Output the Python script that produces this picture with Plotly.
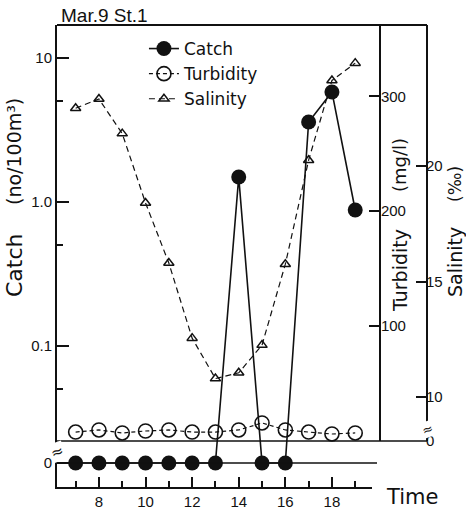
import plotly.graph_objects as go

# ---------------- data ----------------
HOURS = [7, 8, 9, 10, 11, 12, 13, 14, 15, 16, 17, 18, 19]
CATCH = [0, 0, 0, 0, 0, 0, 0, 1.49, 0, 0, 3.59, 5.81, 0.88]          # no/100m3
TURBIDITY = [7.8, 9.6, 7.0, 8.7, 9.6, 7.8, 7.8, 9.6, 15.7, 9.6, 7.8, 6.1, 7.0]  # mg/l
SALINITY = [22.5, 22.9, 21.4, 18.4, 15.8, 12.55, 10.8, 11.05, 12.25, 15.75, 20.25, 23.7, 24.45]  # permil

X_TICKS = [8, 10, 12, 14, 16, 18]
X_MINOR = [7, 9, 11, 13, 15, 17, 19]
CATCH_TICKS = [10, 1, 0.1]
CATCH_TICK_TEXT = ["10", "1.0", "0.1"]
CATCH_MINOR = [5, 0.5, 0.05]
TURB_TICKS = [100, 200, 300]
SAL_TICKS = [10, 15, 20]

# plotting stand-ins for the broken (zero) parts of the axes
CATCH_ZERO_PLOT = 10 ** -1.8125
SAL_AXIS_MIN = 8.1

catch_plot = [c if c > 0 else CATCH_ZERO_PLOT for c in CATCH]

BLACK = "#111111"
TICKFONT = dict(family="Liberation Sans", size=15, color=BLACK)

fig = go.Figure()

fig.add_trace(go.Scatter(
    x=HOURS, y=TURBIDITY, name="Turbidity", xaxis="x", yaxis="y2",
    mode="lines+markers", cliponaxis=False, legendrank=2,
    line=dict(color=BLACK, width=1.2, dash="4px,3px"),
    marker=dict(symbol="circle-open", size=14, color=BLACK, line=dict(width=1.6, color=BLACK)),
))
fig.add_trace(go.Scatter(
    x=HOURS, y=SALINITY, name="Salinity", xaxis="x", yaxis="y3",
    mode="lines+markers", cliponaxis=False, legendrank=3,
    line=dict(color=BLACK, width=1.2, dash="6px,4px"),
    marker=dict(symbol="triangle-up-open", size=9, color=BLACK, line=dict(width=1.5, color=BLACK)),
))
fig.add_trace(go.Scatter(
    x=HOURS, y=catch_plot, name="Catch", xaxis="x", yaxis="y",
    mode="lines+markers", cliponaxis=False, legendrank=1,
    line=dict(color=BLACK, width=1.6),
    marker=dict(symbol="circle", size=15, color=BLACK),
))

X_DOMAIN_END = (372 - 57) / 370
RIGHT_DOMAIN = [(487 - 441) / 462, 1]

fig.update_layout(
    width=466, height=511,
    margin=dict(l=57, r=39, t=25, b=24, autoexpand=False),
    paper_bgcolor="white", plot_bgcolor="rgba(0,0,0,0)",
    font=dict(family="DejaVu Sans", color=BLACK),
    showlegend=True,
    legend=dict(
        x=0.235, y=0.987, xanchor="left", yanchor="top",
        bgcolor="rgba(0,0,0,0)", borderwidth=0,
        font=dict(family="DejaVu Sans", size=17, color=BLACK),
        itemwidth=30, tracegroupgap=0,
    ),
    xaxis=dict(
        domain=[0, X_DOMAIN_END], range=[6.2, 19.72], anchor="y", automargin=False,
        showline=True, linecolor=BLACK, linewidth=2,
        showgrid=False, zeroline=False,
        tickmode="array", tickvals=X_TICKS, ticktext=[str(v) for v in X_TICKS],
        ticks="inside", ticklen=10, tickwidth=1.5, tickcolor=BLACK,
        minor=dict(tickmode="array", tickvals=X_MINOR, ticks="inside", ticklen=6, tickwidth=1.5, tickcolor=BLACK),
        tickfont=TICKFONT,
    ),
    yaxis=dict(
        type="log", range=[-1.979, 1.229], domain=[0, 1], anchor="x", automargin=False,
        showline=True, linecolor=BLACK, linewidth=2,
        showgrid=False, zeroline=False,
        tickmode="array", tickvals=CATCH_TICKS + [CATCH_ZERO_PLOT], ticktext=CATCH_TICK_TEXT + ["0"],
        ticks="inside", ticklen=12, tickwidth=1.5, tickcolor=BLACK,
        minor=dict(tickmode="array", tickvals=CATCH_MINOR, ticks="inside", ticklen=6, tickwidth=1.5, tickcolor=BLACK),
        tickfont=TICKFONT,
    ),
    yaxis2=dict(
        range=[0, 362], domain=RIGHT_DOMAIN, anchor="free", position=(380 - 57) / 370, side="right",
        automargin=False, ticklabelstandoff=-3,
        showline=True, linecolor=BLACK, linewidth=1.8,
        showgrid=False, zeroline=False,
        tickmode="array", tickvals=TURB_TICKS, ticktext=[str(v) for v in TURB_TICKS],
        ticks="inside", ticklen=10, tickwidth=1.5, tickcolor=BLACK,
        tickfont=TICKFONT,
    ),
    yaxis3=dict(
        range=[SAL_AXIS_MIN, 26.1], domain=RIGHT_DOMAIN, anchor="free", position=1.0, side="right",
        automargin=False, ticklabelstandoff=-5,
        showline=True, linecolor=BLACK, linewidth=1.8,
        showgrid=False, zeroline=False,
        tickmode="array", tickvals=SAL_TICKS + [SAL_AXIS_MIN], ticktext=[str(v) for v in SAL_TICKS] + ["0"],
        ticks="inside", ticklen=10, tickwidth=1.5, tickcolor=BLACK,
        tickfont=TICKFONT,
    ),
)

# frame decorations: top border, break line, catch zero level line
fig.add_shape(type="line", xref="paper", yref="paper", x0=0, x1=1, y0=1, y1=1,
              line=dict(color=BLACK, width=2))
fig.add_shape(type="line", xref="paper", yref="paper", x0=0, x1=1, y0=RIGHT_DOMAIN[0], y1=RIGHT_DOMAIN[0],
              line=dict(color=BLACK, width=1.5))
fig.add_shape(type="line", xref="paper", yref="y", x0=0, x1=(377 - 57) / 370,
              y0=CATCH_ZERO_PLOT, y1=CATCH_ZERO_PLOT, line=dict(color=BLACK, width=1.5))


def rot(text, px, py, size):
    return dict(text=text, xref="paper", yref="paper", x=(px - 57) / 370, y=(487 - py) / 462,
                xanchor="center", yanchor="middle", textangle=-90, showarrow=False,
                font=dict(family="DejaVu Sans", size=size, color=BLACK))


ann = [
    dict(text="Mar.9 St.1", xref="paper", yref="paper", x=0.005, y=1.0, xanchor="left", yanchor="bottom",
         showarrow=False, font=dict(family="Liberation Sans", size=19, color=BLACK), yshift=-3),
    rot("Catch", 14, 265, 22),
    rot("(no/100m³)", 14, 152, 19),
    rot("Turbidity", 400, 271, 19),
    rot("(mg/l)", 400, 165, 18),
    rot("Salinity", 455, 262, 19),
    rot("(‰)", 455, 184, 17),
    dict(text="Time", xref="paper", yref="paper", x=(384 - 57) / 370, y=(487 - 497) / 462,
         xanchor="left", yanchor="middle",
         showarrow=False, font=dict(family="DejaVu Sans", size=21, color=BLACK)),
    # axis break marks
    dict(text="≈", xref="paper", yref="paper", x=0, y=(487 - 452) / 462, xanchor="center", yanchor="middle",
         textangle=-20, showarrow=False, bgcolor="white", borderpad=0,
         font=dict(family="DejaVu Sans", size=15, color=BLACK)),
    dict(text="≈", xref="paper", yref="paper", x=1.0, y=(487 - 429) / 462, xanchor="center", yanchor="middle",
         textangle=-20, showarrow=False, bgcolor="white", borderpad=0,
         font=dict(family="DejaVu Sans", size=13, color=BLACK)),
]
fig.update_layout(annotations=ann)

fig.write_html("out.html")
